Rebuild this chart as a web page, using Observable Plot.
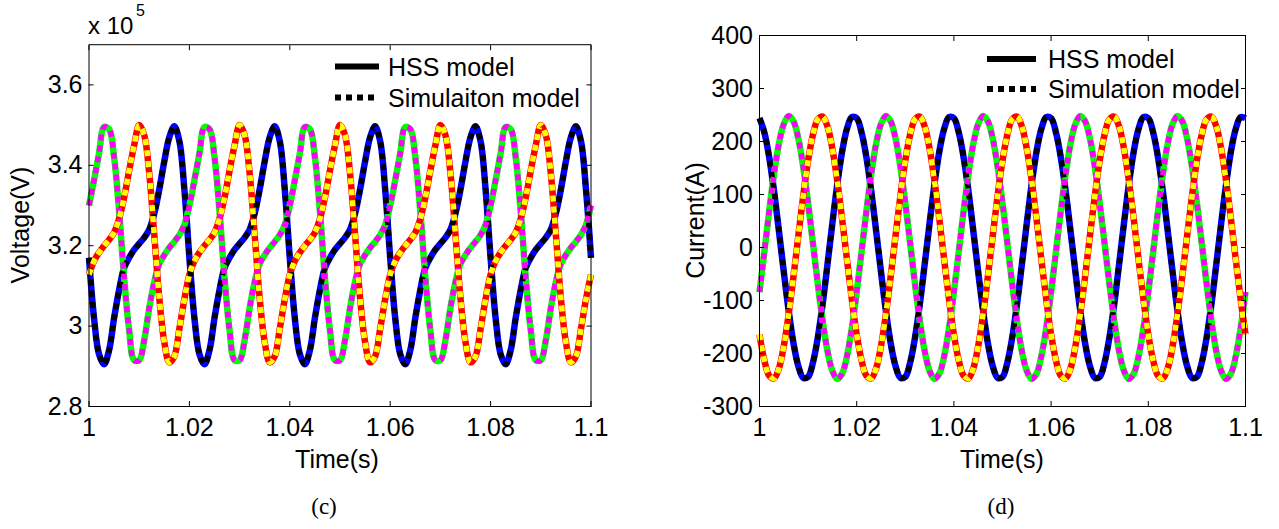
<!DOCTYPE html>
<html><head><meta charset="utf-8">
<script src="https://cdn.jsdelivr.net/npm/d3@7"></script>
<script src="https://cdn.jsdelivr.net/npm/@observablehq/plot@0.6"></script>
<style>
body{margin:0;background:#fff;}
#page{position:relative;width:1279px;height:529px;overflow:hidden;font-family:"Liberation Sans",Arial,sans-serif;color:#000;background:#fff;}
#page svg{position:absolute;}
</style></head><body><div id="page"></div>
<script>
// ---- sample times (s) ----
const time = [
1.000,1.001,1.002,1.003,1.004,1.005,1.006,1.007,1.008,1.009,
1.010,1.011,1.012,1.013,1.014,1.015,1.016,1.017,1.018,1.019,
1.020,1.021,1.022,1.023,1.024,1.025,1.026,1.027,1.028,1.029,
1.030,1.031,1.032,1.033,1.034,1.035,1.036,1.037,1.038,1.039,
1.040,1.041,1.042,1.043,1.044,1.045,1.046,1.047,1.048,1.049,
1.050,1.051,1.052,1.053,1.054,1.055,1.056,1.057,1.058,1.059,
1.060,1.061,1.062,1.063,1.064,1.065,1.066,1.067,1.068,1.069,
1.070,1.071,1.072,1.073,1.074,1.075,1.076,1.077,1.078,1.079,
1.080,1.081,1.082,1.083,1.084,1.085,1.086,1.087,1.088,1.089,
1.090,1.091,1.092,1.093,1.094,1.095,1.096,1.097,1.098,1.099,
1.100];

// ---- (c) voltage, x 10^5 V ----
const voltageA = [
3.17,3.02,2.93,
2.905,2.94,3.02,3.09,3.145,3.17,3.19,3.205,3.22,3.24,3.28,3.34,3.41,3.47,3.497,3.46,3.34,3.17,3.02,2.93,
2.905,2.94,3.02,3.09,3.145,3.17,3.19,3.205,3.22,3.24,3.28,3.34,3.41,3.47,3.497,3.46,3.34,3.17,3.02,2.93,
2.905,2.94,3.02,3.09,3.145,3.17,3.19,3.205,3.22,3.24,3.28,3.34,3.41,3.47,3.497,3.46,3.34,3.17,3.02,2.93,
2.905,2.94,3.02,3.09,3.145,3.17,3.19,3.205,3.22,3.24,3.28,3.34,3.41,3.47,3.497,3.46,3.34,3.17,3.02,2.93,
2.905,2.94,3.02,3.09,3.145,3.17,3.19,3.205,3.22,3.24,3.28,3.34,3.41,3.47,3.497,3.46,3.34,3.17];
const voltageB = [
3.30,3.363,3.43,3.495,3.49,3.42,3.285,3.12,2.99,2.915,2.915,2.965,3.045,3.11,3.155,3.177,3.195,3.21,3.227,3.252,
3.30,3.363,3.43,3.495,3.49,3.42,3.285,3.12,2.99,2.915,2.915,2.965,3.045,3.11,3.155,3.177,3.195,3.21,3.227,3.252,
3.30,3.363,3.43,3.495,3.49,3.42,3.285,3.12,2.99,2.915,2.915,2.965,3.045,3.11,3.155,3.177,3.195,3.21,3.227,3.252,
3.30,3.363,3.43,3.495,3.49,3.42,3.285,3.12,2.99,2.915,2.915,2.965,3.045,3.11,3.155,3.177,3.195,3.21,3.227,3.252,
3.30,3.363,3.43,3.495,3.49,3.42,3.285,3.12,2.99,2.915,2.915,2.965,3.045,3.11,3.155,3.177,3.195,3.21,3.227,3.252,
3.30];
const voltageC = [
3.128,3.162,3.183,3.20,3.215,3.233,3.267,3.32,3.387,3.45,3.50,3.475,3.38,3.227,3.07,2.96,2.91,2.925,2.993,3.067,
3.128,3.162,3.183,3.20,3.215,3.233,3.267,3.32,3.387,3.45,3.50,3.475,3.38,3.227,3.07,2.96,2.91,2.925,2.993,3.067,
3.128,3.162,3.183,3.20,3.215,3.233,3.267,3.32,3.387,3.45,3.50,3.475,3.38,3.227,3.07,2.96,2.91,2.925,2.993,3.067,
3.128,3.162,3.183,3.20,3.215,3.233,3.267,3.32,3.387,3.45,3.50,3.475,3.38,3.227,3.07,2.96,2.91,2.925,2.993,3.067,
3.128,3.162,3.183,3.20,3.215,3.233,3.267,3.32,3.387,3.45,3.50,3.475,3.38,3.227,3.07,2.96,2.91,2.925,2.993,3.067,
3.128];

// ---- (d) current, A ----
const currentA = [
244,217,170,106,31,-46,-119,-181,-224,-246,-244,-217,-170,-106,-31,46,119,181,224,246,
244,217,170,106,31,-46,-119,-181,-224,-246,-244,-217,-170,-106,-31,46,119,181,224,246,
244,217,170,106,31,-46,-119,-181,-224,-246,-244,-217,-170,-106,-31,46,119,181,224,246,
244,217,170,106,31,-46,-119,-181,-224,-246,-244,-217,-170,-106,-31,46,119,181,224,246,
244,217,170,106,31,-46,-119,-181,-224,-246,-244,-217,-170,-106,-31,46,119,181,224,246,
244];
const currentB = [
-84,-8,69,139,196,233,248,238,205,152,84,8,-69,-139,-196,-233,-248,-238,-205,-152,
-84,-8,69,139,196,233,248,238,205,152,84,8,-69,-139,-196,-233,-248,-238,-205,-152,
-84,-8,69,139,196,233,248,238,205,152,84,8,-69,-139,-196,-233,-248,-238,-205,-152,
-84,-8,69,139,196,233,248,238,205,152,84,8,-69,-139,-196,-233,-248,-238,-205,-152,
-84,-8,69,139,196,233,248,238,205,152,84,8,-69,-139,-196,-233,-248,-238,-205,-152,
-84];
const currentC = [
-164,-213,-242,-247,-228,-186,-126,-54,23,98,164,213,242,247,228,186,126,54,-23,-98,
-164,-213,-242,-247,-228,-186,-126,-54,23,98,164,213,242,247,228,186,126,54,-23,-98,
-164,-213,-242,-247,-228,-186,-126,-54,23,98,164,213,242,247,228,186,126,54,-23,-98,
-164,-213,-242,-247,-228,-186,-126,-54,23,98,164,213,242,247,228,186,126,54,-23,-98,
-164,-213,-242,-247,-228,-186,-126,-54,23,98,164,213,242,247,228,186,126,54,-23,-98,
-164];

// ---- ticks, labels, colours ----
const xTicks = [1, 1.02, 1.04, 1.06, 1.08, 1.1];
const xTickLabels = ["1", "1.02", "1.04", "1.06", "1.08", "1.1"];
const vTicks = [2.8, 3, 3.2, 3.4, 3.6];
const vTickLabels = ["2.8", "3", "3.2", "3.4", "3.6"];
const iTicks = [-300, -200, -100, 0, 100, 200, 300, 400];
const iTickLabels = ["-300", "-200", "-100", "0", "100", "200", "300", "400"];
const hssColors = ["#0000ff", "#00ff00", "#ff0000"];
const simColors = ["#000000", "#ff00ff", "#ffff00"];
const legendV = ["HSS model", "Simulaiton model"];
const legendI = ["HSS model", "Simulation model"];
const xLabel = "Time(s)";
const yLabelV = "Voltage(V)";
const yLabelI = "Current(A)";
const captions = ["(c)", "(d)"];

const FONT = '"Liberation Sans", Arial, sans-serif';

function rowsOf(arr) { return time.map((t, k) => ({t, v: arr[k]})); }

function panel(series, yDomain, yTicks, yLabels, size) {
  const marks = [];
  series.forEach((arr, i) => marks.push(Plot.line(rowsOf(arr), {
    x: "t", y: "v", stroke: hssColors[i], strokeWidth: 6.5, curve: "catmull-rom",
    strokeLinejoin: "round", strokeLinecap: "butt"})));
  series.forEach((arr, i) => marks.push(Plot.line(rowsOf(arr), {
    x: "t", y: "v", stroke: simColors[i], strokeWidth: 5.5, curve: "catmull-rom",
    strokeDasharray: "6,5", strokeLinecap: "butt"})));
  const fmtX = d => xTickLabels[xTicks.indexOf(d)];
  const fmtY = d => yLabels[yTicks.indexOf(d)];
  marks.push(Plot.frame({stroke: "black", strokeWidth: 1}));
  marks.push(Plot.axisX(xTicks, {anchor: "bottom", tickSize: 5, dy: -5, tickPadding: 12, tickFormat: fmtX, fontSize: 25, label: null}));
  marks.push(Plot.axisX(xTicks, {anchor: "top", tickSize: 5, dy: 5, tickFormat: () => "", label: null}));
  marks.push(Plot.axisY(yTicks, {anchor: "left", tickSize: 5, dx: 5, tickPadding: 6.5, tickFormat: fmtY, fontSize: 25, label: null}));
  marks.push(Plot.axisY(yTicks, {anchor: "right", tickSize: 5, dx: -5, tickFormat: () => "", label: null}));
  return Plot.plot({
    ...size,
    x: {domain: [1, 1.1]},
    y: {domain: yDomain},
    style: {fontFamily: FONT, fontSize: "25px", color: "black", background: "transparent", overflow: "visible"},
    marks
  });
}

const page = document.getElementById("page");

const left = panel([voltageA, voltageB, voltageC], [2.8, 3.7], vTicks, vTickLabels,
  {width: 640, height: 440, marginLeft: 88.5, marginRight: 49.5, marginTop: 44.2, marginBottom: 34});
left.style.left = "0px"; left.style.top = "0px";
page.appendChild(left);

const right = panel([currentA, currentB, currentC], [-300, 400], iTicks, iTickLabels,
  {width: 579, height: 440, marginLeft: 59, marginRight: 34, marginTop: 35, marginBottom: 34});
right.style.left = "700px"; right.style.top = "0px";
page.appendChild(right);

// ---- overlay: labels, legends, captions ----
function legendSvg(x1, x2, xt, y1, y2, labels) {
  return `
  <line x1="${x1}" x2="${x2}" y1="${y1}" y2="${y1}" stroke="black" stroke-width="6"/>
  <line x1="${x1}" x2="${x2}" y1="${y2}" y2="${y2}" stroke="black" stroke-width="6" stroke-dasharray="6,5"/>
  <text x="${xt}" y="${y1}" dominant-baseline="central">${labels[0]}</text>
  <text x="${xt}" y="${y2}" dominant-baseline="central">${labels[1]}</text>`;
}
const ns = "http://www.w3.org/2000/svg";
const ov = document.createElementNS(ns, "svg");
ov.setAttribute("width", 1279); ov.setAttribute("height", 529);
ov.style.left = "0px"; ov.style.top = "0px";
ov.setAttribute("font-family", FONT); ov.setAttribute("font-size", 25); ov.setAttribute("fill", "black");
ov.innerHTML = `
  <text x="88" y="34" font-size="24">x 10</text>
  <text x="136" y="16" font-size="16">5</text>
  <text transform="translate(20,225) rotate(-90)" text-anchor="middle" dominant-baseline="central">${yLabelV}</text>
  <text transform="translate(695,220.5) rotate(-90)" text-anchor="middle" dominant-baseline="central">${yLabelI}</text>
  <text x="337" y="459" text-anchor="middle" dominant-baseline="central">${xLabel}</text>
  <text x="1002" y="459" text-anchor="middle" dominant-baseline="central">${xLabel}</text>
  <text x="324" y="506" text-anchor="middle" dominant-baseline="central" font-family='"Liberation Serif", "Times New Roman", serif' font-size="23">${captions[0]}</text>
  <text x="1001" y="506" text-anchor="middle" dominant-baseline="central" font-family='"Liberation Serif", "Times New Roman", serif' font-size="23">${captions[1]}</text>
  ${legendSvg(335, 379, 388, 66.5, 97.5, legendV)}
  ${legendSvg(987, 1036, 1048, 59, 89, legendI)}
`;
page.appendChild(ov);
</script></body></html>
